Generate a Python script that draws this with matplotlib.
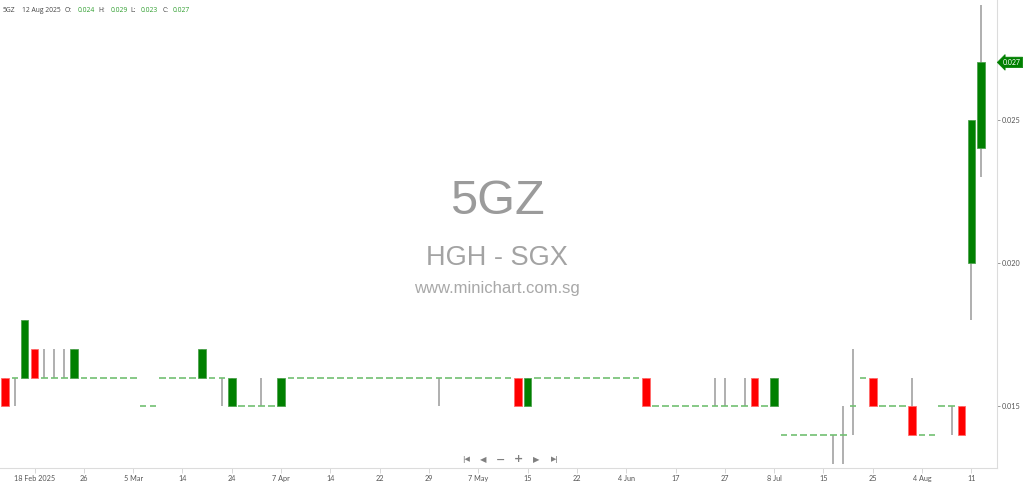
import matplotlib
matplotlib.use("Agg")
import matplotlib.pyplot as plt
import matplotlib.transforms as mtransforms

# ---------------- data ----------------
symbol = "5GZ"
company = "HGH - SGX"
site = "www.minichart.com.sg"
last_date = "12 Aug 2025"

opens = [
    0.016, 0.016, 0.016, 0.017, 0.016, 0.016, 0.016, 0.016, 0.016, 0.016,
    0.016, 0.016, 0.016, 0.016, 0.015, 0.015, 0.016, 0.016, 0.016, 0.016,
    0.016, 0.016, 0.016, 0.015, 0.015, 0.015, 0.015, 0.015, 0.015, 0.016,
    0.016, 0.016, 0.016, 0.016, 0.016, 0.016, 0.016, 0.016, 0.016, 0.016,
    0.016, 0.016, 0.016, 0.016, 0.016, 0.016, 0.016, 0.016, 0.016, 0.016,
    0.016, 0.016, 0.016, 0.015, 0.016, 0.016, 0.016, 0.016, 0.016, 0.016,
    0.016, 0.016, 0.016, 0.016, 0.016, 0.016, 0.015, 0.015, 0.015, 0.015,
    0.015, 0.015, 0.015, 0.015, 0.015, 0.015, 0.016, 0.015, 0.015, 0.014,
    0.014, 0.014, 0.014, 0.014, 0.014, 0.014, 0.015, 0.016, 0.016, 0.015,
    0.015, 0.015, 0.015, 0.014, 0.014, 0.015, 0.015, 0.015, 0.020, 0.024,
]
highs = [
    0.016, 0.016, 0.018, 0.017, 0.017, 0.017, 0.017, 0.017, 0.016, 0.016,
    0.016, 0.016, 0.016, 0.016, 0.015, 0.015, 0.016, 0.016, 0.016, 0.016,
    0.017, 0.016, 0.016, 0.016, 0.015, 0.015, 0.016, 0.015, 0.016, 0.016,
    0.016, 0.016, 0.016, 0.016, 0.016, 0.016, 0.016, 0.016, 0.016, 0.016,
    0.016, 0.016, 0.016, 0.016, 0.016, 0.016, 0.016, 0.016, 0.016, 0.016,
    0.016, 0.016, 0.016, 0.016, 0.016, 0.016, 0.016, 0.016, 0.016, 0.016,
    0.016, 0.016, 0.016, 0.016, 0.016, 0.016, 0.015, 0.015, 0.015, 0.015,
    0.015, 0.015, 0.016, 0.016, 0.015, 0.016, 0.016, 0.015, 0.016, 0.014,
    0.014, 0.014, 0.014, 0.014, 0.014, 0.015, 0.017, 0.016, 0.016, 0.015,
    0.015, 0.015, 0.016, 0.014, 0.014, 0.015, 0.015, 0.015, 0.025, 0.029,
]
lows = [
    0.015, 0.015, 0.016, 0.016, 0.016, 0.016, 0.016, 0.016, 0.016, 0.016,
    0.016, 0.016, 0.016, 0.016, 0.015, 0.015, 0.016, 0.016, 0.016, 0.016,
    0.016, 0.016, 0.015, 0.015, 0.015, 0.015, 0.015, 0.015, 0.015, 0.016,
    0.016, 0.016, 0.016, 0.016, 0.016, 0.016, 0.016, 0.016, 0.016, 0.016,
    0.016, 0.016, 0.016, 0.016, 0.015, 0.016, 0.016, 0.016, 0.016, 0.016,
    0.016, 0.016, 0.015, 0.015, 0.016, 0.016, 0.016, 0.016, 0.016, 0.016,
    0.016, 0.016, 0.016, 0.016, 0.016, 0.015, 0.015, 0.015, 0.015, 0.015,
    0.015, 0.015, 0.015, 0.015, 0.015, 0.015, 0.015, 0.015, 0.015, 0.014,
    0.014, 0.014, 0.014, 0.014, 0.013, 0.013, 0.014, 0.016, 0.015, 0.015,
    0.015, 0.015, 0.014, 0.014, 0.014, 0.015, 0.014, 0.014, 0.018, 0.023,
]
closes = [
    0.015, 0.016, 0.018, 0.016, 0.016, 0.016, 0.016, 0.017, 0.016, 0.016,
    0.016, 0.016, 0.016, 0.016, 0.015, 0.015, 0.016, 0.016, 0.016, 0.016,
    0.017, 0.016, 0.016, 0.016, 0.015, 0.015, 0.015, 0.015, 0.016, 0.016,
    0.016, 0.016, 0.016, 0.016, 0.016, 0.016, 0.016, 0.016, 0.016, 0.016,
    0.016, 0.016, 0.016, 0.016, 0.016, 0.016, 0.016, 0.016, 0.016, 0.016,
    0.016, 0.016, 0.015, 0.016, 0.016, 0.016, 0.016, 0.016, 0.016, 0.016,
    0.016, 0.016, 0.016, 0.016, 0.016, 0.015, 0.015, 0.015, 0.015, 0.015,
    0.015, 0.015, 0.015, 0.015, 0.015, 0.015, 0.015, 0.015, 0.016, 0.014,
    0.014, 0.014, 0.014, 0.014, 0.014, 0.014, 0.015, 0.016, 0.015, 0.015,
    0.015, 0.015, 0.014, 0.014, 0.014, 0.015, 0.015, 0.014, 0.025, 0.027,
]

tick_positions = [3, 8, 13, 18, 23, 28, 33, 38, 43, 48, 53, 58, 63, 68, 73, 78, 83, 88, 93, 98]
tick_labels = ["18 Feb 2025", "26", "5 Mar", "14", "24", "7 Apr", "14", "22", "29",
               "7 May", "15", "22", "4 Jun", "17", "27", "8 Jul", "15", "25", "4 Aug", "11"]
price_ticks = [0.015, 0.020, 0.025]

# ---------------- style ----------------
UP = "#008000"
UP_EDGE = "#4ea24e"
DOWN = "#ff0000"
DOWN_EDGE = "#ff6a6a"
WICK = "#9a9a9a"
FLAT = "#72c072"
W, H = 1024, 484

fig = plt.figure(figsize=(W / 100, H / 100), dpi=100)
fig.patch.set_facecolor("white")
ax = fig.add_axes([0, 16 / H, 997 / W, 468 / H])
ax.set_facecolor("white")

n = len(opens)
xs = list(range(n))
body_w = 0.76

for i in xs:
    o, h, l, c = opens[i], highs[i], lows[i], closes[i]
    if h > l:
        ax.vlines(i, l, h, color=WICK, lw=1.1, zorder=2)
    if c > o:
        ax.bar(i, c - o, bottom=o, width=body_w, color=UP, edgecolor=UP_EDGE,
               linewidth=0.6, zorder=3)
    elif c < o:
        ax.bar(i, o - c, bottom=c, width=body_w, color=DOWN, edgecolor=DOWN_EDGE,
               linewidth=0.6, zorder=3)
    else:
        ax.hlines(o, i - 0.34, i + 0.34, color=FLAT, lw=1.2, zorder=3)

ax.set_xlim(-0.507, 100.6)
ax.set_ylim(0.012847, 0.029177)

for s in ["top", "left"]:
    ax.spines[s].set_visible(False)
ax.spines["right"].set_color("#dcdcdc")
ax.spines["bottom"].set_color("#dcdcdc")
ax.spines["right"].set_linewidth(0.8)
ax.spines["bottom"].set_linewidth(0.8)

ax.yaxis.tick_right()
ax.set_yticks(price_ticks)
ax.set_yticklabels([f"{v:.3f}" for v in price_ticks])
ax.tick_params(axis="y", length=2, width=0.6, color="#888888", pad=1.5,
               labelsize=5.2, labelcolor="#555555")
ax.set_xticks(tick_positions)
ax.set_xticklabels(tick_labels)
ax.tick_params(axis="x", length=3.6, width=0.6, color="#d0d0d0", pad=1.2,
               labelsize=5.2, labelcolor="#555555")
for lab in ax.get_xticklabels() + ax.get_yticklabels():
    lab.set_family("Lato")

# last price tag
trans = mtransforms.blended_transform_factory(ax.transAxes, ax.transData)
ax.text(1003 / 997, closes[-1], f"{closes[-1]:.3f}", transform=trans, ha="left", va="center",
        fontsize=5, color="white", family="Lato", clip_on=False, zorder=5,
        bbox=dict(boxstyle="larrow,pad=0.25", fc=UP, ec=UP, lw=0.5))

# header
def fx(px):
    return px / W

def fy(py):
    return 1 - py / H

hdr_y = fy(10)
hdr_green = "#2e9e2e"
hdr_fs = 4.9
hdr_font = "Open Sans"
fig.text(fx(3), hdr_y, symbol, fontsize=hdr_fs, color="#444444", family=hdr_font, va="center")
fig.text(fx(22.5), hdr_y, last_date, fontsize=hdr_fs, color="#444444", family=hdr_font, va="center")
hdr_items = [("O:", opens[-1], 65, 77.3), ("H:", highs[-1], 98.5, 110.7),
             ("L:", lows[-1], 130.7, 140.7), ("C:", closes[-1], 162.3, 173)]
for lab, val, xl, xv in hdr_items:
    fig.text(fx(xl), hdr_y, lab, fontsize=hdr_fs, color="#444444", family=hdr_font, va="center")
    fig.text(fx(xv), hdr_y, f"{val:.3f}", fontsize=hdr_fs, color=hdr_green, family=hdr_font, va="center")

# watermark
fig.text(fx(497), fy(202), symbol, fontsize=35, color="#9b9b9b", family="Liberation Sans",
         ha="center", va="center", zorder=0)
fig.text(fx(497), fy(258), company, fontsize=19.5, color="#a3a3a3", family="Liberation Sans",
         ha="center", va="center", zorder=0)
fig.text(fx(497), fy(289), site, fontsize=12, color="#a8a8a8", family="Liberation Sans",
         ha="center", va="center", zorder=0)

# navigation controls
nav_y = fy(459.5)
nav = [("|◀", 465.7, 5), ("◀", 483.5, 6), ("−", 501, 8), ("+", 518.5, 8), ("▶", 536.5, 6), ("▶|", 554.5, 5)]
for sym, px, fs in nav:
    fig.text(fx(px), nav_y, sym, fontsize=fs, color="#808080", family="DejaVu Sans",
             ha="center", va="center", weight="bold")

fig.savefig("out.png", dpi=100, facecolor="white")
